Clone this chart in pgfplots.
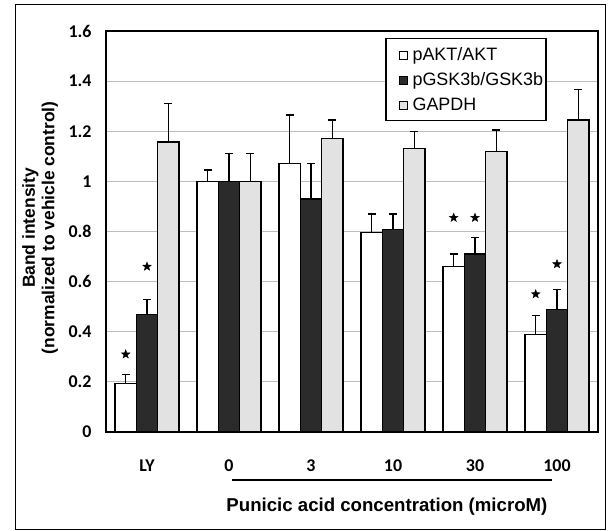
\documentclass[border=0pt]{standalone}
\usepackage{pgfplots}
\pgfplotsset{compat=1.18}
\usepackage{pgfplotstable}
\usepackage{fontspec}
\setmainfont{Liberation Sans}
\newfontfamily\carlito{Carlito}

\definecolor{barblack}{HTML}{2B2B2B}
\definecolor{bargray}{HTML}{E2E2E2}
\definecolor{gridgray}{HTML}{BDBDBD}

% filled five-pointed star for significance marks
\pgfdeclareplotmark{fstar}{%
  \pgfpathmoveto{\pgfpointpolar{90}{\pgfplotmarksize}}%
  \pgfpathlineto{\pgfpointpolar{126}{0.42\pgfplotmarksize}}%
  \pgfpathlineto{\pgfpointpolar{162}{\pgfplotmarksize}}%
  \pgfpathlineto{\pgfpointpolar{198}{0.42\pgfplotmarksize}}%
  \pgfpathlineto{\pgfpointpolar{234}{\pgfplotmarksize}}%
  \pgfpathlineto{\pgfpointpolar{270}{0.42\pgfplotmarksize}}%
  \pgfpathlineto{\pgfpointpolar{306}{\pgfplotmarksize}}%
  \pgfpathlineto{\pgfpointpolar{342}{0.42\pgfplotmarksize}}%
  \pgfpathlineto{\pgfpointpolar{18}{\pgfplotmarksize}}%
  \pgfpathlineto{\pgfpointpolar{54}{0.42\pgfplotmarksize}}%
  \pgfpathclose
  \pgfusepathqfillstroke}

% band intensities (mean and upper error) per treatment;
% xa, xb, xc are the centres of the three bars of each group
\pgfplotstableread{
x  xa     xb  xc    akt    akte   gsk    gske   gapdh  gapdhe
0  -0.26  0   0.26  0.195  0.035  0.47   0.06   1.157  0.155
1  0.74   1   1.26  1.00   0.045  1.00   0.11   1.00   0.11
2  1.74   2   2.26  1.07   0.195  0.93   0.14   1.17   0.075
3  2.74   3   3.26  0.795  0.075  0.807  0.063  1.13   0.07
4  3.74   4   4.26  0.66   0.05   0.71   0.065  1.12   0.085
5  4.74   5   5.26  0.39   0.075  0.49   0.08   1.245  0.12
}\bands

% significance marks
\pgfplotstableread{
x      y
-0.26  0.31
0      0.66
3.74   0.855
4      0.855
4.74   0.55
5      0.67
}\signif

\begin{document}
\begin{tikzpicture}
\path[use as bounding box] (0,0) rectangle (608bp,531bp);
\begin{axis}[
  at={(106bp,99bp)}, anchor=south west,
  width=492bp, height=401bp, scale only axis,
  xmin=-0.5, xmax=5.5, ymin=0, ymax=1.6,
  axis line style={line width=2.2pt},
  xtick={0,1,2,3,4,5}, xticklabels={LY,0,3,10,30,100},
  ytick={0,0.2,0.4,0.6,0.8,1,1.2,1.4,1.6},
  major tick length=0pt,
  ymajorgrids, grid style={gridgray, line width=0.8pt},
  /pgf/number format/assume math mode=true,
  ticklabel style={font=\carlito\bfseries\fontsize{18}{20}\selectfont},
  xticklabel style={anchor=base, yshift=-39bp},
  yticklabel style={xshift=-11bp},
  ylabel={Band intensity\\(normalized to vehicle control)},
  ylabel style={at={(axis description cs:-0.134,0.509)}, anchor=center,
    align=center, font=\bfseries\fontsize{17.5}{19.5}\selectfont},
  xlabel={Punicic acid concentration (microM)},
  xlabel style={at={(axis description cs:0.571,-0.187)}, anchor=center,
    font=\bfseries\fontsize{18.7}{20}\selectfont},
  legend cell align=left,
  legend style={at={(rel axis cs:0.896,0.9825)}, anchor=north east,
    draw=black, line width=1.4pt, font=\fontsize{18}{20}\selectfont,
    inner xsep=1bp, inner ysep=7bp, row sep=6.5bp,
    /tikz/every odd column/.style={column sep=0bp}},
  sqleg/.style={legend image code/.code={%
    \path (0bp,0bp);
    \draw[line width=0.9pt, draw=black, fill=#1] (12bp,-4.5bp) rectangle (20bp,3.5bp);
    \path (22bp,0bp);}},
  bars/.style={ybar, bar width=21.3bp, draw=black, line width=1.2pt},
  errs/.style={draw=none, mark=none, forget plot,
    error bars/.cd, y dir=plus, y explicit,
    error bar style={line width=1.2pt, draw=black, solid},
    error mark options={rotate=90, mark size=4bp, line width=1.2pt, draw=black}},
]
\addlegendimage{sqleg=white}
\addlegendimage{sqleg=barblack}
\addlegendimage{sqleg=bargray}

\addplot[bars, bar shift=-21.3bp, fill=white] table[x=x, y=akt] {\bands};
\addplot[bars, bar shift=0bp, fill=barblack] table[x=x, y=gsk] {\bands};
\addplot[bars, bar shift=21.3bp, fill=bargray] table[x=x, y=gapdh] {\bands};

% upper error bars at the centre of each bar
\addplot[errs] table[x=xa, y=akt, y error=akte] {\bands};
\addplot[errs] table[x=xb, y=gsk, y error=gske] {\bands};
\addplot[errs] table[x=xc, y=gapdh, y error=gapdhe] {\bands};

\addplot[only marks, mark=fstar, mark size=4.5bp, black] table[x=x, y=y] {\signif};

\legend{pAKT/AKT, pGSK3b/GSK3b, GAPDH}
\end{axis}
\draw[line width=1.6pt] (232bp,51bp) -- (552bp,51bp);
\draw[line width=1pt] (15bp,2bp) rectangle (605bp,526bp);
\end{tikzpicture}
\end{document}
